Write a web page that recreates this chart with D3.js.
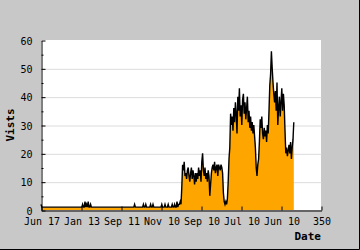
<!DOCTYPE html>
<html>
<head>
<meta charset="utf-8">
<script src="https://cdn.jsdelivr.net/npm/d3@7"></script>
<style>
  body { margin: 0; background: #c8c8c8; }
  svg { display: block; }
  .tick text { font-family: "DejaVu Sans Mono", monospace; font-size: 10px; fill: #000; }
  .title { font-family: "DejaVu Sans Mono", monospace; font-size: 11px; font-weight: bold; }
</style>
</head>
<body>
<div id="chart"></div>
<script>
// daily visits (index = day number)
const lowPhase = [
  2,1,1,1,1,1,1,1,1,1, 1,1,1,1,1,1,1,1,1,1, 1,1,1,1,1,1,1,1,1,1,
  1,1,1,1,1,1,1,1,1,1, 1,1,1,1,1,1,1,1,1,1, 1,1,2,1,1,3,1,2,1,3,
  1,1,2,1,1,1,1,1,1,1, 1,1,1,1,1,1,1,1,1,1, 1,1,1,1,1,1,1,1,1,1,
  1,1,1,1,1,1,1,1,1,1, 1,1,1,1,1,1,1,1,1,1, 1,1,1,1,1,1,1,2,1,1,
  1,1,1,1,1,1,1,1,2,1, 1,2,1,1,1,1,1,2,1,1, 2,1,1,1,1,1,1,1,1,1,
  1,2,1,1,1,2,1,1,1,2, 1,1,1,1,2,1,1,2,1,1, 3,1,2,2
];
const midPhase = [
  3,2,8,16,14,17,12,13,11,14, 15,12,10,13,15,11,14,12,9,13,
  10,13,11,15,12,14,10,17,20,14, 12,15,11,13,10,14,12,5,9,13,
  15,16,14,17,13,15,16,12,16,15, 14,16,15,13,6,3,2,3,2,4,
  10,18,22
];
const highPhase = [
  34,30,33,28,36,31,38,34,27,40, 35,43,33,37,30,39,41,34,38,32,
  36,40,31,35,29,33,28,31,27,30, 26,22,15,12,16,18,24,32,29,33,
  27,25,29,26,28,24,30,27,35,44, 48,56,50,45,41,38,42,35,45,30,
  36,40,33,38,43,35,41,37,28,20, 22,19,21,23,20,24,18,22,25,31
];
const visits = lowPhase.concat(midPhase, highPhase);

const yMajor = [0, 10, 20, 30, 40, 50, 60];
const yMinor = [5, 15, 25, 35, 45, 55];
const xTicks = [0, 50, 100, 150, 200, 250, 300, 350];
const xTickLabels = ["Jun 17", "Jan 13", "Sep 11", "Nov 10", "Sep 10", "Jul 10", "Jun 10", "350"];

const width = 360, height = 250;
const plotL = 41, plotR = 321, plotT = 40, plotB = 210;

const svg = d3.select("#chart").append("svg")
    .attr("width", width)
    .attr("height", height);

svg.append("rect").attr("width", width).attr("height", height).attr("fill", "#c8c8c8");
// frame shadow right / bottom
svg.append("path")
    .attr("d", `M${width - 0.5},0V${height - 0.5}H0`)
    .attr("fill", "none").attr("stroke", "#000");

svg.append("rect")
    .attr("x", plotL).attr("y", plotT)
    .attr("width", plotR - plotL).attr("height", plotB - plotT)
    .attr("fill", "#fff");

const x = d3.scaleLinear().domain([0, 350]).range([plotL, plotR]);
const y = d3.scaleLinear().domain([0, 60]).range([plotB, plotT]);

// grid
svg.append("g")
    .attr("transform", `translate(${plotL + 0.5},0.5)`)
    .call(d3.axisLeft(y).tickValues(yMajor.slice(1, -1)).tickSize(-(plotR - plotL)).tickFormat(""))
    .call(g => g.select(".domain").remove())
    .call(g => g.selectAll("line").attr("stroke", "#dcdcdc"));

// area + line
const area = d3.area()
    .x((d, i) => x(i))
    .y0(y(0))
    .y1(d => y(d));
const line = d3.line()
    .x((d, i) => x(i))
    .y(d => y(d));

svg.append("path").datum(visits)
    .attr("d", area)
    .attr("fill", "#ffa500");
svg.append("path").datum(visits)
    .attr("d", line)
    .attr("fill", "none")
    .attr("stroke", "#000")
    .attr("stroke-width", 1.4);

// y axis
svg.append("g")
    .attr("transform", `translate(${plotL + 0.5},0.5)`)
    .call(d3.axisLeft(y).tickValues(yMinor).tickSize(-2).tickFormat(""))
    .call(g => g.select(".domain").remove());
svg.append("g")
    .attr("transform", `translate(${plotL + 0.5},0.5)`)
    .call(d3.axisLeft(y).tickValues(yMajor).tickSizeInner(-4).tickSizeOuter(0).tickPadding(9))
    .call(g => g.selectAll("text").attr("dy", "0.36em"));

// x axis
svg.append("g")
    .attr("transform", `translate(0.5,${plotB + 0.5})`)
    .call(d3.axisBottom(x).tickValues(xTicks).tickSizeInner(-4).tickSizeOuter(0).tickPadding(7)
        .tickFormat((d, i) => xTickLabels[i]));

svg.append("text").attr("class", "title")
    .attr("transform", `translate(14,${(plotT + plotB) / 2}) rotate(-90)`)
    .attr("text-anchor", "middle")
    .text("Vists");
svg.append("text").attr("class", "title")
    .attr("x", plotR).attr("y", 240)
    .attr("text-anchor", "end")
    .text("Date");
</script>
</body>
</html>
